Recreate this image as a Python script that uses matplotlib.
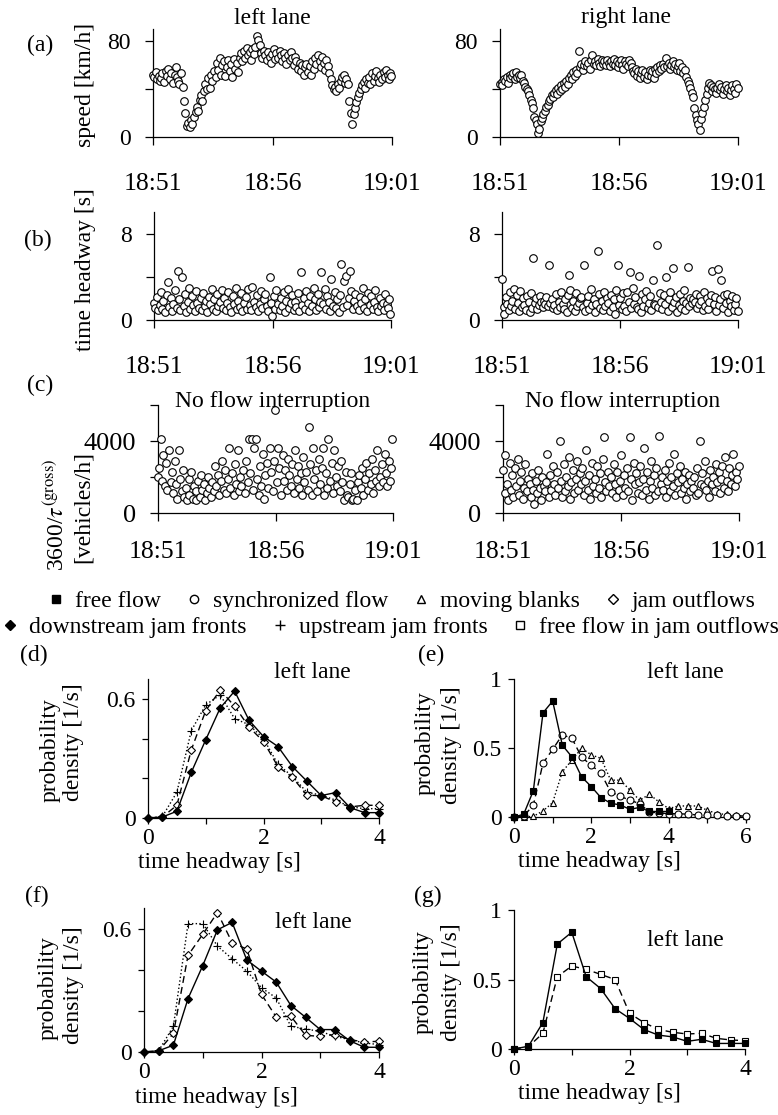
import matplotlib
matplotlib.use('Agg')
import numpy as np
import matplotlib.pyplot as plt
from matplotlib.lines import Line2D

plt.rcParams['font.family'] = ['Liberation Serif', 'DejaVu Serif']
plt.rcParams['mathtext.fontset'] = 'stix'
plt.rcParams['font.size'] = 17

# ---------------- data ----------------
# left lane: vehicle passage times [s after 18:51], speed, headway, flux
left_t = [0, 3, 7, 9, 14, 17, 21, 23, 28, 32, 35, 38, 43, 46, 49, 54, 57, 60, 64, 66,
          71, 75, 78, 80, 85, 89, 92, 96, 98, 103, 107, 110, 113, 118, 121, 124, 128, 131, 135, 139,
          142, 146, 149, 153, 157, 160, 163, 168, 171, 174, 178, 182, 185, 188, 193, 196, 199, 203, 207, 210,
          213, 218, 221, 224, 229, 232, 235, 239, 243, 246, 249, 254, 257, 260, 264, 268, 271, 274, 279, 282,
          285, 289, 293, 296, 299, 304, 307, 310, 314, 318, 321, 324, 329, 332, 335, 339, 343, 346, 349, 354,
          357, 360, 364, 368, 371, 374, 379, 382, 385, 389, 393, 396, 399, 404, 407, 410, 414, 418, 421, 424,
          429, 432, 435, 439, 443, 446, 449, 454, 457, 460, 464, 468, 471, 474, 479, 482, 485, 489, 493, 496,
          499, 504, 507, 510, 514, 518, 521, 524, 529, 532, 535, 539, 543, 546, 549, 554, 557, 560, 564, 568,
          571, 574, 579, 582, 585, 589, 593, 596, 598]
left_speed = [52, 50, 54, 48, 51, 47, 49, 53, 46, 55, 51, 57, 48, 53, 45, 52, 58, 50, 47, 44,
              53, 42, 30, 20, 9, 12, 8, 14, 11, 17, 21, 25, 22, 31, 35, 30, 38, 44, 40, 49,
              41, 52, 47, 55, 50, 62, 56, 66, 52, 60, 63, 51, 58, 64, 55, 61, 50, 65, 57, 62,
              54, 66, 70, 63, 72, 66, 74, 68, 71, 64, 73, 69, 75, 84, 81, 77, 70, 66, 72, 68,
              64, 71, 67, 62, 69, 73, 65, 70, 66, 72, 68, 63, 70, 66, 61, 68, 64, 71, 66, 60,
              67, 63, 57, 62, 55, 60, 52, 58, 61, 54, 59, 52, 63, 57, 66, 61, 68, 63, 58, 67,
              62, 56, 64, 59, 53, 48, 43, 40, 42, 38, 44, 41, 47, 50, 52, 45, 48, 44, 30, 20,
              11, 19, 24, 29, 33, 37, 40, 43, 46, 41, 48, 45, 50, 44, 53, 47, 51, 55, 49, 46,
              52, 48, 54, 50, 56, 52, 48, 53, 51]
left_headway = [1.6, 1.1, 2.1, 0.9, 1.4, 2.6, 1.0, 1.8, 0.7, 2.3, 3.5, 1.2, 2.0, 0.8, 1.5, 2.8, 1.1, 4.5, 1.9, 0.9,
                4.0, 1.3, 2.4, 0.7, 1.7, 3.0, 1.0, 2.2, 1.4, 0.8, 2.7, 1.6, 1.1, 2.0, 0.9, 2.5, 1.3, 1.8, 0.7, 2.1,
                1.5, 2.9, 1.0, 1.9, 0.8, 2.4, 1.3, 1.7, 2.8, 1.1, 2.0, 0.9, 1.6, 2.6, 1.2, 0.7, 2.2, 1.5, 3.0, 1.0,
                1.8, 1.2, 2.5, 0.8, 1.6, 2.1, 1.0, 2.9, 1.4, 0.9, 3.1, 1.7, 1.2, 2.3, 0.8, 1.5, 2.7, 1.1, 1.9, 2.4,
                1.3, 0.8, 4.0, 1.6, 0.4, 2.2, 1.0, 2.8, 1.5, 0.9, 2.0, 1.3, 2.6, 0.7, 1.8, 2.9, 1.1, 1.6, 2.3, 0.9,
                1.7, 1.2, 2.5, 0.8, 4.4, 1.4, 2.0, 1.0, 2.7, 1.6, 0.8, 2.2, 1.3, 3.0, 1.9, 0.9, 2.4, 1.2, 1.7, 4.4,
                1.5, 2.9, 1.0, 2.2, 1.7, 0.8, 3.8, 1.3, 2.6, 1.1, 1.9, 0.7, 2.3, 5.2, 1.2, 3.6, 4.1, 1.4, 2.0, 4.5,
                2.7, 1.0, 1.8, 2.4, 1.3, 0.9, 2.1, 1.6, 3.0, 1.1, 1.9, 0.8, 2.5, 1.4, 2.2, 1.0, 1.7, 2.8, 1.2, 0.8,
                2.0, 1.3, 1.6, 0.9, 2.4, 1.5, 1.1, 1.9, 0.6]
left_flux = [2000, 2500, 4100, 1800, 3200, 1500, 2800, 1300, 3500, 1700, 2300, 1100, 2900, 1600, 800, 3500, 1900, 1200, 2400, 900,
             1400, 700, 1900, 1000, 2300, 800, 1500, 700, 1200, 1800, 900, 2100, 1300, 1600, 700, 1100, 2000, 1400, 900, 1700,
             1200, 2600, 1500, 2100, 1000, 1800, 2900, 1300, 2400, 1100, 1900, 3600, 1400, 2200, 1000, 2700, 1600, 3500, 1200, 2000,
             1500, 2400, 1100, 2900, 1700, 4100, 2200, 4100, 1300, 3600, 4100, 1900, 1000, 2600, 1500, 3300, 800, 2100, 2800, 1400,
             3600, 2300, 1200, 2900, 5750, 1700, 3600, 2500, 1000, 3200, 1800, 2400, 1300, 3000, 2100, 1500, 2700, 1100, 3500, 1900,
             2600, 1400, 2200, 1000, 3100, 1700, 2300, 1300, 4800, 2700, 1000, 3600, 1900, 2400, 1200, 3000, 1600, 2500, 3600, 1000,
             2200, 1400, 4100, 1800, 2800, 1100, 3500, 2000, 1500, 2600, 1200, 2900, 1700, 700, 2300, 1000, 900, 1600, 2200, 700,
             800, 1300, 700, 1700, 2100, 1400, 2500, 1000, 1900, 2800, 1300, 2200, 1600, 3000, 1100, 2400, 1800, 3500, 1500, 2000,
             2700, 1700, 3300, 2200, 1500, 2900, 1800, 2500, 4100]

# right lane
right_t = [1, 4, 6, 10, 13, 17, 20, 24, 26, 30, 34, 37, 40, 44, 47, 51, 54, 57, 61, 64,
           68, 71, 74, 77, 80, 83, 86, 90, 93, 96, 99, 103, 106, 109, 113, 116, 120, 123, 126, 130,
           133, 137, 140, 144, 147, 150, 154, 157, 161, 164, 167, 171, 174, 178, 181, 185, 188, 191, 195, 198,
           202, 205, 209, 212, 215, 219, 222, 226, 229, 233, 236, 239, 243, 246, 250, 253, 257, 260, 263, 267,
           270, 274, 277, 281, 284, 287, 291, 294, 298, 301, 305, 308, 311, 315, 318, 322, 325, 329, 332, 335,
           339, 342, 346, 349, 353, 356, 359, 363, 366, 370, 373, 377, 380, 383, 387, 390, 394, 397, 401, 404,
           407, 411, 414, 418, 421, 425, 428, 431, 435, 438, 442, 445, 449, 452, 455, 459, 462, 466, 469, 473,
           476, 479, 483, 486, 490, 493, 497, 500, 503, 507, 510, 514, 517, 521, 524, 527, 531, 534, 538, 541,
           545, 548, 551, 555, 558, 562, 565, 569, 572, 575, 579, 582, 586, 589, 593, 596, 599]
right_speed = [44, 46, 43, 48, 47, 50, 45, 52, 49, 51, 53, 48, 54, 50, 52, 49, 52, 47, 45, 42,
               40, 38, 35, 31, 28, 24, 17, 14, 11, 3, 7, 13, 16, 19, 22, 25, 27, 30, 32, 35,
               33, 37, 39, 36, 41, 38, 43, 40, 45, 42, 47, 44, 49, 52, 48, 54, 51, 56, 53, 72,
               58, 61, 56, 60, 63, 59, 62, 57, 64, 68, 61, 63, 60, 65, 62, 59, 64, 61, 63, 60,
               64, 62, 59, 63, 61, 65, 60, 63, 58, 62, 64, 60, 57, 63, 61, 59, 64, 62, 58, 55,
               53, 57, 51, 55, 49, 53, 56, 50, 54, 48, 52, 56, 51, 55, 49, 57, 53, 58, 55, 60,
               57, 61, 58, 66, 59, 62, 57, 60, 63, 58, 61, 56, 59, 62, 55, 58, 53, 56, 50, 47,
               44, 41, 37, 33, 24, 18, 14, 11, 6, 15, 20, 25, 31, 36, 41, 45, 43, 38, 42, 40,
               37, 41, 44, 39, 42, 36, 40, 43, 38, 41, 35, 39, 43, 40, 37, 44, 41]
right_headway = [3.8, 1.2, 0.6, 2.1, 1.5, 0.9, 2.6, 1.3, 1.8, 2.9, 1.0, 2.3, 1.6, 0.8, 2.7, 1.2, 2.0, 1.4, 0.9, 2.2,
                 1.7, 0.7, 2.5, 1.1, 5.7, 1.6, 2.0, 1.0, 1.4, 2.2, 1.7, 1.2, 1.8, 1.5, 2.1, 1.3, 5.1, 1.6, 1.9, 1.1,
                 1.4, 2.4, 0.9, 1.7, 1.2, 2.6, 1.5, 1.0, 1.9, 0.7, 2.3, 4.2, 2.8, 1.1, 1.8, 0.8, 2.5, 1.3, 1.6, 2.0,
                 2.1, 1.2, 5.1, 0.8, 1.6, 2.2, 1.0, 2.9, 1.4, 1.9, 0.7, 1.5, 6.4, 2.4, 1.1, 1.8, 0.9, 2.6, 1.3, 2.0,
                 1.6, 0.8, 2.3, 1.2, 1.9, 0.6, 2.8, 5.1, 1.4, 2.0, 1.0, 2.5, 1.3, 0.8, 2.6, 1.7, 4.4, 1.1, 3.0, 1.5,
                 2.1, 1.2, 1.0, 4.1, 0.7, 2.4, 1.3, 1.9, 2.7, 1.1, 1.6, 2.2, 0.9, 3.7, 1.5, 1.4, 6.9, 1.2, 2.5, 1.7,
                 1.0, 2.3, 1.5, 4.0, 0.8, 1.9, 2.6, 1.2, 4.8, 1.7, 2.1, 0.7, 1.4, 2.4, 1.1, 1.8, 2.8, 0.9, 1.6, 4.9,
                 1.3, 2.0, 1.6, 1.9, 1.7, 2.4, 1.1, 1.5, 2.2, 1.8, 0.9, 2.6, 1.3, 2.0, 1.0, 1.7, 2.3, 4.5, 1.5, 2.1,
                 0.8, 4.7, 1.4, 1.9, 3.7, 1.1, 2.3, 1.6, 2.4, 0.7, 1.8, 1.3, 2.2, 0.9, 1.5, 2.0, 0.8]
right_flux = [2400, 1100, 3200, 1600, 700, 2800, 1300, 2100, 900, 2500, 1500, 3000, 1000, 1800, 2300, 800, 1400, 2700, 1200, 1900,
              1600, 900, 2200, 1300, 500, 1800, 1100, 2400, 1400, 700, 2000, 1500, 1200, 1700, 3300, 900, 2100, 1300, 2600, 1600,
              1000, 2300, 1400, 4000, 1800, 900, 2700, 1200, 2000, 1500, 3100, 800, 1700, 2400, 1100, 1900, 2900, 1300, 2200, 1600,
              2500, 1000, 1800, 3500, 1300, 2100, 800, 2800, 1500, 1900, 1100, 2600, 1400, 2200, 900, 3000, 4200, 1700, 1200, 2300,
              1500, 2000, 1100, 2700, 1600, 900, 2300, 1300, 1800, 3200, 1000, 2100, 1400, 2500, 1200, 4200, 1900, 700, 2800, 1600,
              2200, 1100, 1700, 2600, 1000, 1900, 3600, 1300, 2300, 800, 1800, 2900, 1400, 2100, 1000, 2500, 1200, 4300, 1600, 2000,
              1300, 2400, 900, 1800, 2800, 1200, 2000, 1500, 3300, 1000, 2200, 1700, 2600, 1100, 1900, 1400, 2300, 800, 1600, 2100,
              1200, 1800, 1400, 2000, 1000, 2500, 1100, 4000, 1600, 2200, 1500, 2900, 1300, 1800, 900, 2400, 1600, 2000, 1200, 2700,
              1700, 2300, 1100, 1900, 2600, 1400, 3100, 1800, 1200, 2500, 1600, 2100, 3300, 1500, 2300, 1900, 2600]

time_ticks = [0, 5, 10]
time_labels = ['18:51', '18:56', '19:01']

# headway distributions (bin centres in s, density in 1/s)
hw4 = [0, 0.25, 0.5, 0.75, 1.0, 1.25, 1.5, 1.75, 2.0, 2.25, 2.5, 2.75, 3.0, 3.25, 3.5, 3.75, 4.0]
hw6 = [0, 0.25, 0.5, 0.75, 1.0, 1.25, 1.5, 1.75, 2.0, 2.25, 2.5, 2.75, 3.0, 3.25, 3.5, 3.75, 4.0,
       4.25, 4.5, 4.75, 5.0, 5.25, 5.5, 5.75, 6.0]
d_down = [0, 0.005, 0.034, 0.23, 0.394, 0.554, 0.639, 0.492, 0.41, 0.36, 0.259, 0.186, 0.113, 0.128, 0.052, 0.027, 0.027]
d_out = [0, 0.005, 0.064, 0.343, 0.541, 0.644, 0.563, 0.458, 0.385, 0.259, 0.205, 0.115, 0.112, 0.081, 0.056, 0.064, 0.064]
d_up = [0, 0.008, 0.13, 0.44, 0.57, 0.62, 0.50, 0.47, 0.40, 0.27, 0.21, 0.13, 0.115, 0.09, 0.056, 0.047, 0.047]
f_down = [0, 0.006, 0.033, 0.26, 0.42, 0.594, 0.63, 0.447, 0.393, 0.34, 0.226, 0.169, 0.109, 0.109, 0.055, 0.023, 0.023]
f_out = [0, 0.006, 0.09, 0.47, 0.572, 0.678, 0.532, 0.50, 0.28, 0.17, 0.174, 0.081, 0.076, 0.085, 0.06, 0.049, 0.052]
f_up = [0, 0.006, 0.125, 0.624, 0.624, 0.515, 0.453, 0.393, 0.312, 0.263, 0.125, 0.112, 0.10, 0.076, 0.06, 0.044, 0.036]
free_flow = [0, 0.02, 0.19, 0.755, 0.84, 0.52, 0.435, 0.29, 0.22, 0.14, 0.10, 0.087, 0.055, 0.07, 0.04, 0.04, 0.04]
sync_flow = [0, 0.007, 0.085, 0.39, 0.49, 0.595, 0.57, 0.432, 0.376, 0.316, 0.182, 0.15, 0.121, 0.097, 0.036, 0.03,
             0.024, 0.024, 0.02, 0.015, 0.012, 0.012, 0.007, 0.007, 0.007]
moving_blanks = [0, 0, 0.005, 0.044, 0.104, 0.328, 0.413, 0.498, 0.45, 0.425, 0.267, 0.267, 0.194, 0.121, 0.165, 0.109,
                 0.061, 0.08, 0.08, 0.08, 0.049, 0.024, 0.019, 0.012, 0.007]
jam_free_flow = [0, 0.017, 0.113, 0.52, 0.597, 0.573, 0.537, 0.50, 0.257, 0.19, 0.141, 0.12, 0.108, 0.113, 0.077, 0.065, 0.06]

# ---------------- figure ----------------
W, H = 778, 1115
fig = plt.figure(figsize=(W / 100, H / 100), dpi=100)


def px_axes(x0, x1, ytop, ybot):
    return fig.add_axes([x0 / W, 1 - ybot / H, (x1 - x0) / W, (ybot - ytop) / H])


def ftext(x, y, s, **kw):
    kw.setdefault('ha', 'center')
    kw.setdefault('va', 'center')
    fig.text(x / W, 1 - y / H, s, **kw)


def clean(ax):
    for s in ['top', 'right']:
        ax.spines[s].set_visible(False)
    for s in ['left', 'bottom']:
        ax.spines[s].set_linewidth(0.9)


def time_panel(ax, t, v, ylim, yticks, ylabels, ysize=17, xpad=20):
    clean(ax)
    ax.scatter(np.array(t) / 60.0, v, s=30, facecolors='white', edgecolors='black',
               linewidths=0.8, clip_on=False, zorder=3)
    ax.set_xlim(0, 10)
    ax.set_ylim(*ylim)
    ax.set_xticks(time_ticks, time_labels)
    ax.set_yticks(yticks, ylabels)
    ax.tick_params(axis='x', length=6, width=0.9, pad=xpad, labelsize=18.5)
    ax.tick_params(axis='y', length=6, width=0.9, pad=10, labelsize=ysize)


# (a) speed
ax = px_axes(153, 392, 29, 137)
time_panel(ax, left_t, left_speed, (0, 90), [0, 40, 80], ['0', '', '80'])
ax = px_axes(500, 738, 29, 137)
time_panel(ax, right_t, right_speed, (0, 90), [0, 40, 80], ['0', '', '80'])
# (b) time headway
ax = px_axes(154, 391, 212, 320)
time_panel(ax, left_t, left_headway, (0, 10), [0, 4, 8], ['0', '', '8'])
ax = px_axes(502, 738, 212, 320)
time_panel(ax, right_t, right_headway, (0, 10), [0, 4, 8], ['0', '', '8'])
# (c) flux
ax = px_axes(158, 393, 405, 513)
time_panel(ax, left_t, left_flux, (0, 6000), [0, 2000, 4000, 6000], ['0', '', '4000', ''],
           ysize=19, xpad=14)
ax = px_axes(503, 739, 405, 513)
time_panel(ax, right_t, right_flux, (0, 6000), [0, 2000, 4000, 6000], ['0', '', '4000', ''],
           ysize=19, xpad=14)

ftext(272, 18, 'left lane')
ftext(626, 18, 'right lane')
ftext(40, 45, '(a)')
ftext(86, 85, 'speed [km/h]', rotation=90)
ftext(38, 240, '(b)')
ftext(86, 270, 'time headway [s]', rotation=90)
ftext(40, 385, '(c)')
ftext(273, 402, 'No flow interruption')
ftext(623, 402, 'No flow interruption')
ftext(57, 515, r'3600/$\tau^{\mathrm{(gross)}}$', rotation=90)
ftext(83, 507, '[vehicles/h]', rotation=90)

# legend rows
ms = 6
row1 = [Line2D([], [], ls='none', marker='s', mfc='black', mec='black', ms=ms),
        Line2D([], [], ls='none', marker='o', mfc='white', mec='black', ms=ms),
        Line2D([], [], ls='none', marker='^', mfc='white', mec='black', ms=ms),
        Line2D([], [], ls='none', marker='D', mfc='white', mec='black', ms=ms - 1)]
row2 = [Line2D([], [], ls='none', marker='D', mfc='black', mec='black', ms=ms - 1),
        Line2D([], [], ls='none', marker='+', color='black', ms=ms + 1),
        Line2D([], [], ls='none', marker='s', mfc='white', mec='black', ms=ms)]
lg_kw = dict(loc='center', frameon=False, fontsize=17, handlelength=0.8, handletextpad=0.4,
             columnspacing=1.0, borderaxespad=0, borderpad=0)
fig.legend(row1, ['free flow', 'synchronized flow', 'moving blanks', 'jam outflows'],
           bbox_to_anchor=(401 / W, 1 - 601 / H), ncol=4, **lg_kw)
fig.legend(row2, ['downstream jam fronts', 'upstream jam fronts', 'free flow in jam outflows'],
           bbox_to_anchor=(390 / W, 1 - 627 / H), ncol=3, **lg_kw)


def dist_panel(ax, xmax, ymax, xticks, xlabels, yticks, ylabels, label_x):
    clean(ax)
    ax.set_xlim(0, xmax)
    ax.set_ylim(0, ymax)
    ax.set_xticks(xticks, xlabels)
    ax.set_yticks(yticks, ylabels)
    ax.tick_params(axis='x', length=4, width=0.9, pad=3)
    ax.tick_params(axis='y', length=4, width=0.9, pad=5)
    ax.set_xlabel('time headway [s]')
    ax.xaxis.set_label_coords(label_x, -0.245)


def series(ax, x, y, ls, marker, mfc, ms=5):
    ax.plot(x, y, ls=ls, lw=1.0, color='black', marker=marker, mfc=mfc, mec='black',
            ms=ms, mew=0.8, clip_on=False, zorder=3)


# (d)
ax = px_axes(148, 379, 679, 818)
dist_panel(ax, 4, 0.7, [0, 1, 2, 3, 4], ['0', '', '2', '', '4'],
           [0, 0.2, 0.4, 0.6], ['0', '', '', '0.6'], 0.31)
series(ax, hw4, d_up, ':', '+', 'none', ms=6)
series(ax, hw4, d_out, (0, (5, 3)), 'D', 'white', ms=4.5)
series(ax, hw4, d_down, '-', 'D', 'black', ms=4.5)

# (e)
ax = px_axes(514, 746, 679, 817)
dist_panel(ax, 6, 1, [0, 1, 2, 3, 4, 5, 6], ['0', '', '2', '', '4', '', '6'],
           [0, 0.5, 1], ['0', '0.5', '1'], 0.37)
series(ax, hw6, moving_blanks, ':', '^', 'white', ms=5)
series(ax, hw6, sync_flow, (0, (5, 3)), 'o', 'white', ms=5)
series(ax, hw4, free_flow, '-', 's', 'black', ms=5)

# (f)
ax = px_axes(144, 379, 908, 1052)
dist_panel(ax, 4, 0.7, [0, 1, 2, 3, 4], ['0', '', '2', '', '4'],
           [0, 0.2, 0.4, 0.6], ['0', '', '', '0.6'], 0.31)
series(ax, hw4, f_up, ':', '+', 'none', ms=6)
series(ax, hw4, f_out, (0, (5, 3)), 'D', 'white', ms=4.5)
series(ax, hw4, f_down, '-', 'D', 'black', ms=4.5)

# (g)
ax = px_axes(514, 745, 910, 1049)
dist_panel(ax, 4, 1, [0, 1, 2, 3, 4], ['0', '', '2', '', '4'],
           [0, 0.5, 1], ['0', '0.5', '1'], 0.37)
series(ax, hw4, jam_free_flow, (0, (5, 3)), 's', 'white', ms=5)
series(ax, hw4, free_flow, '-', 's', 'black', ms=5)

ftext(34, 655, '(d)')
ftext(312, 673, 'left lane')
ftext(50, 750, 'probability', rotation=90)
ftext(74, 742, 'density [1/s]', rotation=90)
ftext(431, 655, '(e)')
ftext(685, 673, 'left lane')
ftext(425, 743, 'probability', rotation=90)
ftext(452, 745, 'density [1/s]', rotation=90)
ftext(37, 896, '(f)')
ftext(313, 923, 'left lane')
ftext(48, 988, 'probability', rotation=90)
ftext(73, 985, 'density [1/s]', rotation=90)
ftext(428, 896, '(g)')
ftext(685, 940, 'left lane')
ftext(423, 982, 'probability', rotation=90)
ftext(452, 982, 'density [1/s]', rotation=90)

fig.savefig('out.png', dpi=100)
